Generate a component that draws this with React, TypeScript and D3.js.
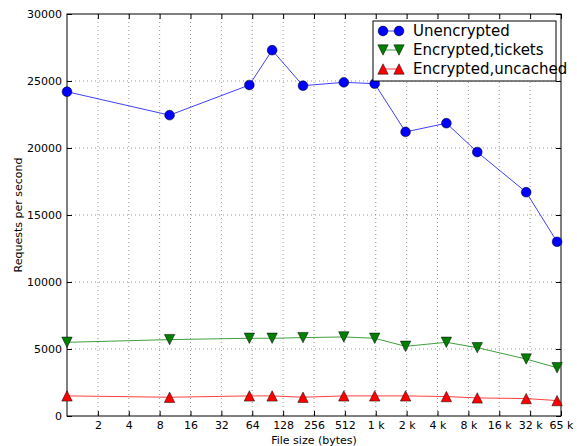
import React, { useEffect, useRef } from "react";
import * as d3 from "d3";

const fileSizes = [1, 10, 60, 100, 200, 500, 1000, 2000, 5000, 10000, 30000, 60000];
const unencrypted = [24200, 22450, 24700, 27300, 24650, 24900, 24800, 21200, 21850, 19700, 16700, 13000];
const encryptedTickets = [5500, 5700, 5800, 5800, 5850, 5900, 5800, 5200, 5500, 5100, 4250, 3600];
const encryptedUncached = [1500, 1400, 1500, 1500, 1400, 1500, 1500, 1500, 1450, 1350, 1300, 1150];

const xTicks = [2, 4, 8, 16, 32, 64, 128, 256, 512, 1024, 2048, 4096, 8192, 16384, 32768, 65536];
const xTickLabels = ["2", "4", "8", "16", "32", "64", "128", "256", "512", "1 k", "2 k", "4 k", "8 k", "16 k", "32 k", "65 k"];
const yTicks = [0, 5000, 10000, 15000, 20000, 25000, 30000];

const seriesNames = ["Unencrypted", "Encrypted,tickets", "Encrypted,uncached"];
const seriesColors = ["#0000ff", "#007f00", "#ff0000"];
const seriesMarkers = ["circle", "down", "up"];

export default function App() {
  const svgRef = useRef<SVGSVGElement>(null);

  useEffect(() => {
    const width = 577;
    const height = 446;
    const margin = { top: 14, right: 16, bottom: 30, left: 67 };
    const innerWidth = width - margin.left - margin.right;
    const innerHeight = height - margin.top - margin.bottom;
    const font = "DejaVu Sans, sans-serif";
    const tickFont = "11px";

    const root = d3.select(svgRef.current);
    root.selectAll("*").remove();
    root.attr("width", width).attr("height", height);

    const svg = root.append("g").attr("transform", `translate(${margin.left},${margin.top})`);

    const x = d3.scaleLog().base(2).domain([1, 65536]).range([0, innerWidth]);
    const y = d3.scaleLinear().domain([0, 30000]).range([innerHeight, 0]);

    // grid
    svg.append("g")
      .selectAll("line")
      .data(xTicks.slice(0, -1))
      .enter()
      .append("line")
      .attr("x1", d => x(d)).attr("x2", d => x(d))
      .attr("y1", 0).attr("y2", innerHeight)
      .attr("stroke", "#555").attr("stroke-width", 0.6)
      .attr("stroke-dasharray", "1,3");
    svg.append("g")
      .selectAll("line")
      .data(yTicks.slice(1, -1))
      .enter()
      .append("line")
      .attr("x1", 0).attr("x2", innerWidth)
      .attr("y1", d => y(d)).attr("y2", d => y(d))
      .attr("stroke", "#555").attr("stroke-width", 0.6)
      .attr("stroke-dasharray", "1,3");

    // axes (ticks inward)
    const xAxis = svg.append("g")
      .attr("transform", `translate(0,${innerHeight})`)
      .call(d3.axisBottom(x).tickValues(xTicks).tickFormat((_, i) => xTickLabels[i]).tickSizeInner(-5).tickSizeOuter(0).tickPadding(5));
    xAxis.select(".domain").remove();
    xAxis.selectAll("text").style("font-family", font).style("font-size", tickFont).attr("fill", "#000");

    const yAxis = svg.append("g")
      .call(d3.axisLeft(y).tickValues(yTicks).tickFormat(d3.format("d")).tickSizeInner(-5).tickSizeOuter(0).tickPadding(5));
    yAxis.select(".domain").remove();
    yAxis.selectAll("text").style("font-family", font).style("font-size", tickFont).attr("fill", "#000");

    svg.append("g")
      .attr("transform", `translate(${innerWidth},0)`)
      .call(d3.axisRight(y).tickValues(yTicks).tickSizeInner(-5).tickSizeOuter(0).tickFormat(() => ""))
      .select(".domain").remove();
    svg.append("g")
      .call(d3.axisTop(x).tickValues(xTicks).tickSizeInner(-5).tickSizeOuter(0).tickFormat(() => ""))
      .select(".domain").remove();

    svg.append("rect")
      .attr("width", innerWidth).attr("height", innerHeight)
      .attr("fill", "none").attr("stroke", "#000").attr("stroke-width", 1);

    const allSeries = [unencrypted, encryptedTickets, encryptedUncached];
    const line = d3.line<number>().x((_, i) => x(fileSizes[i])).y(d => y(d));

    const markerPath = (kind: string) => {
      if (kind === "circle") return d3.symbol(d3.symbolCircle, 75)();
      const s = 5.2;
      if (kind === "down") return `M${-s},${-s}L${s},${-s}L0,${s}Z`;
      return `M${-s},${s}L${s},${s}L0,${-s}Z`;
    };

    allSeries.forEach((vals, si) => {
      svg.append("path")
        .datum(vals)
        .attr("d", line)
        .attr("fill", "none")
        .attr("stroke", seriesColors[si])
        .attr("stroke-opacity", 0.75)
        .attr("stroke-width", 1);
      svg.append("g")
        .selectAll("path")
        .data(vals)
        .enter()
        .append("path")
        .attr("transform", (d, i) => `translate(${x(fileSizes[i])},${y(d)})`)
        .attr("d", markerPath(seriesMarkers[si]))
        .attr("fill", seriesColors[si])
        .attr("stroke", "#000")
        .attr("stroke-width", 0.5);
    });

    // axis labels
    svg.append("text")
      .attr("x", innerWidth / 2).attr("y", innerHeight + 28)
      .attr("text-anchor", "middle")
      .style("font-family", font).style("font-size", tickFont)
      .text("File size (bytes)");
    svg.append("text")
      .attr("transform", "rotate(-90)")
      .attr("x", -innerHeight / 2).attr("y", -45)
      .attr("text-anchor", "middle")
      .style("font-family", font).style("font-size", tickFont)
      .text("Requests per second");

    // legend
    const lg = svg.append("g").attr("transform", `translate(${373 - margin.left},${21 - margin.top})`);
    lg.append("rect")
      .attr("width", 183).attr("height", 60)
      .attr("fill", "#fff").attr("stroke", "#000").attr("stroke-width", 1);
    seriesNames.forEach((name, i) => {
      const cy = 10 + i * 19;
      lg.append("line")
        .attr("x1", 10).attr("x2", 26).attr("y1", cy).attr("y2", cy)
        .attr("stroke", seriesColors[i]).attr("stroke-opacity", 0.75);
      [10, 26].forEach(mx => {
        lg.append("path")
          .attr("transform", `translate(${mx},${cy})`)
          .attr("d", markerPath(seriesMarkers[i]))
          .attr("fill", seriesColors[i])
          .attr("stroke", "#000").attr("stroke-width", 0.5);
      });
      lg.append("text")
        .attr("x", 40).attr("y", cy + 5)
        .style("font-family", font).style("font-size", "15px")
        .text(name);
    });
  }, []);

  return <svg ref={svgRef} style={{ position: "absolute", left: 0, top: 0 }}></svg>;
}
